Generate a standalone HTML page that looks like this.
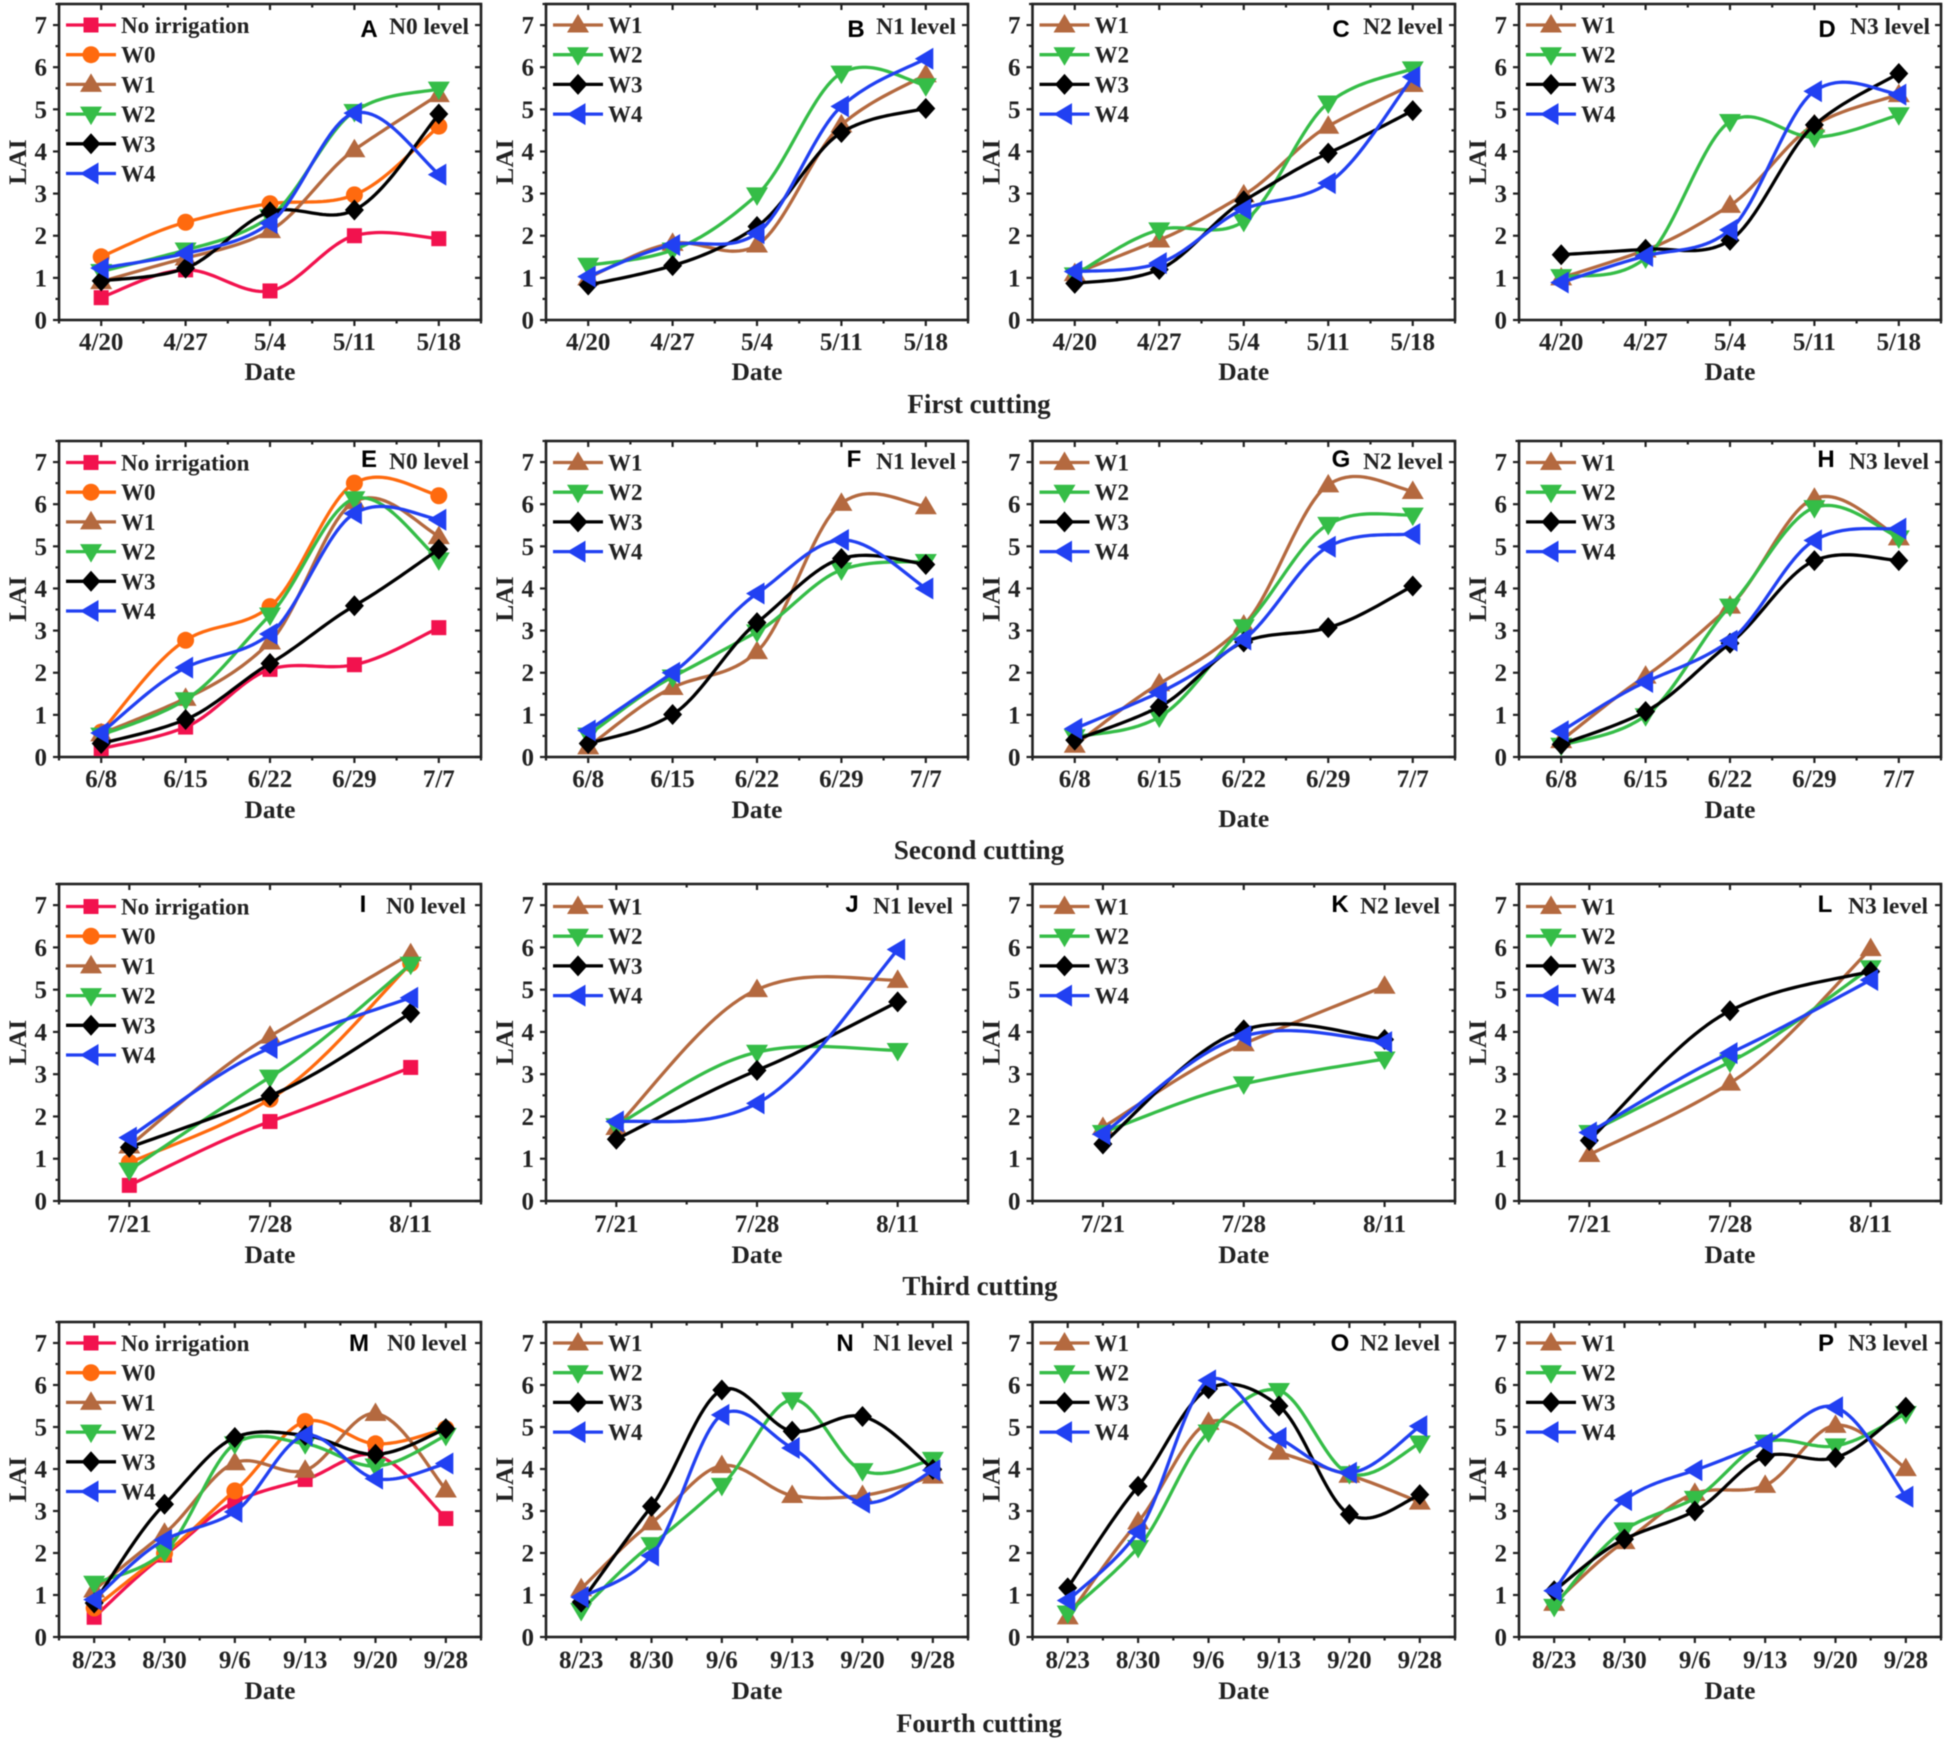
<!DOCTYPE html>
<html lang="en">
<head>
<meta charset="utf-8">
<title>LAI by date across four cuttings</title>
<style>
html,body{margin:0;padding:0;background:#fff}
svg{display:block;filter:blur(.45px)}
text{font-family:"Liberation Serif",serif;font-weight:bold;fill:#222}
.letter{font-family:"Liberation Sans",sans-serif;fill:#000;font-size:24px;text-anchor:middle}
</style>
</head>
<body>
<svg id="chart" xmlns="http://www.w3.org/2000/svg" width="1949" height="1744" viewBox="0 0 1949 1744">
<rect width="1949" height="1744" fill="#fff"/>
<text x="979" y="413" font-size="27" text-anchor="middle">First cutting</text>
<text x="979" y="859" font-size="27" text-anchor="middle">Second cutting</text>
<text x="980" y="1295" font-size="27" text-anchor="middle">Third cutting</text>
<text x="979" y="1732" font-size="26.5" text-anchor="middle">Fourth cutting</text>
</svg>
<script>
// ---- categories ----
const datesFirst = ['4/20','4/27','5/4','5/11','5/18'];
const datesSecond = ['6/8','6/15','6/22','6/29','7/7'];
const datesThird = ['7/21','7/28','8/11'];
const datesFourth = ['8/23','8/30','9/6','9/13','9/20','9/28'];
const yTickLabels = ['0','1','2','3','4','5','6','7'];

// ---- series values (LAI) ----
const A_NI=[0.53,1.19,0.69,2.0,1.93];
const A_W0=[1.5,2.32,2.76,2.97,4.6];
const A_W1=[0.91,1.47,2.12,4.04,5.35];
const A_W2=[1.15,1.66,2.45,4.95,5.48];
const A_W3=[0.93,1.23,2.57,2.61,4.89];
const A_W4=[1.23,1.58,2.3,4.91,3.45];

const B_W1=[1.0,1.82,1.78,4.63,5.82];
const B_W2=[1.3,1.66,2.97,5.86,5.56];
const B_W3=[0.83,1.29,2.22,4.45,5.02];
const B_W4=[1.03,1.78,2.06,5.07,6.2];

const C_W1=[1.1,1.9,2.97,4.6,5.59];
const C_W2=[1.07,2.14,2.34,5.15,5.96];
const C_W3=[0.87,1.2,2.83,3.96,4.97];
const C_W4=[1.15,1.35,2.63,3.25,5.77];

const D_W1=[1.0,1.66,2.72,4.63,5.35];
const D_W2=[1.03,1.47,4.71,4.34,4.87];
const D_W3=[1.55,1.68,1.89,4.63,5.85];
const D_W4=[0.89,1.52,2.14,5.43,5.35];

const E_NI=[0.2,0.71,2.08,2.19,3.07];
const E_W0=[0.59,2.77,3.57,6.5,6.2];
const E_W1=[0.55,1.39,2.73,6.06,5.23];
const E_W2=[0.52,1.36,3.37,6.13,4.68];
const E_W3=[0.32,0.89,2.22,3.59,4.93];
const E_W4=[0.57,2.12,2.92,5.78,5.63];

const F_W1=[0.24,1.65,2.5,6.02,5.94];
const F_W2=[0.52,1.9,2.97,4.44,4.64];
const F_W3=[0.32,1.01,3.19,4.71,4.57];
const F_W4=[0.63,2.0,3.88,5.15,4.0];

const G_W1=[0.28,1.74,3.13,6.46,6.3];
const G_W2=[0.48,0.95,3.09,5.52,5.74];
const G_W3=[0.4,1.19,2.73,3.07,4.06];
const G_W4=[0.67,1.53,2.79,4.99,5.29];

const H_W1=[0.39,1.92,3.58,6.14,5.2];
const H_W2=[0.28,0.98,3.58,5.92,5.2];
const H_W3=[0.3,1.08,2.7,4.66,4.66];
const H_W4=[0.61,1.78,2.76,5.14,5.42];

const I_NI=[0.37,1.88,3.16];
const I_W0=[0.91,2.41,5.62];
const I_W1=[1.3,3.9,5.85];
const I_W2=[0.73,2.93,5.6];
const I_W3=[1.27,2.49,4.45];
const I_W4=[1.5,3.62,4.81];

const J_W1=[1.74,5.0,5.22];
const J_W2=[1.78,3.52,3.56];
const J_W3=[1.46,3.09,4.71];
const J_W4=[1.88,2.31,5.95];

const K_W1=[1.74,3.72,5.08];
const K_W2=[1.62,2.77,3.36];
const K_W3=[1.35,4.05,3.82];
const K_W4=[1.58,3.9,3.76];

const L_W1=[1.1,2.79,5.97];
const L_W2=[1.62,3.29,5.52];
const L_W3=[1.43,4.5,5.43];
const L_W4=[1.62,3.5,5.23];

const M_NI=[0.47,1.95,3.22,3.75,4.33,2.82];
const M_W0=[0.69,1.99,3.48,5.13,4.6,4.96];
const M_W1=[1.12,2.47,4.15,3.97,5.32,3.5];
const M_W2=[1.28,2.03,4.6,4.6,4.07,4.8];
const M_W3=[0.81,3.16,4.75,4.8,4.35,4.96];
const M_W4=[0.89,2.31,2.98,4.8,3.77,4.13];

const N_W1=[1.15,2.72,4.08,3.37,3.37,3.83];
const N_W2=[0.63,2.2,3.61,5.65,3.96,4.23];
const N_W3=[0.83,3.11,5.88,4.9,5.25,3.99];
const N_W4=[0.95,1.94,5.29,4.5,3.2,3.97];

const O_W1=[0.48,2.74,5.11,4.4,3.85,3.21];
const O_W2=[0.57,2.13,4.88,5.87,3.89,4.62];
const O_W3=[1.17,3.59,5.91,5.5,2.92,3.39];
const O_W4=[0.87,2.5,6.11,4.74,3.91,5.02];

const P_W1=[0.8,2.27,3.42,3.61,5.04,4.01];
const P_W2=[0.73,2.55,3.3,4.64,4.55,5.32];
const P_W3=[1.1,2.33,3.0,4.3,4.27,5.47];
const P_W4=[1.1,3.26,3.97,4.62,5.47,3.34];

// ---- figure layout ----
const SVGNS = 'http://www.w3.org/2000/svg';
const root = document.getElementById('chart');
const Y_MAX = 7.5;
const INK = '#222';
const TENSION = 0.85;
const columns = [{l:59,r:481},{l:546,r:968},{l:1032.5,r:1455},{l:1519,r:1941}];
const rows = [
  {t:4,b:320,tick:350,date:380,legend:25,letter:37,level:34},
  {t:441,b:757,tick:787,date:818,legend:462.5,letter:467,level:469},
  {t:884,b:1201,tick:1232,date:1263,legend:906.5,letter:912,level:913.5},
  {t:1322,b:1637,tick:1668,date:1699,legend:1343,letter:1351,level:1350.5}
];
const seriesStyle = {
  'No irrigation':{color:'#F2124E',marker:'square'},
  'W0':{color:'#FF6A0E',marker:'circle'},
  'W1':{color:'#B4693F',marker:'up'},
  'W2':{color:'#35BD47',marker:'down'},
  'W3':{color:'#000000',marker:'diamond'},
  'W4':{color:'#2140F2',marker:'left'}
};
const fullSeries = ['No irrigation','W0','W1','W2','W3','W4'];
const partSeries = ['W1','W2','W3','W4'];

const panels = [
 {id:'A',col:0,row:0,level:'N0 level',letterX:369,levelEnd:469,dates:datesFirst,names:fullSeries,values:[A_NI,A_W0,A_W1,A_W2,A_W3,A_W4]},
 {id:'B',col:1,row:0,level:'N1 level',letterX:856,levelEnd:956,dates:datesFirst,names:partSeries,values:[B_W1,B_W2,B_W3,B_W4]},
 {id:'C',col:2,row:0,level:'N2 level',letterX:1341,levelEnd:1443,dates:datesFirst,names:partSeries,values:[C_W1,C_W2,C_W3,C_W4]},
 {id:'D',col:3,row:0,level:'N3 level',letterX:1827,levelEnd:1930,dates:datesFirst,names:partSeries,values:[D_W1,D_W2,D_W3,D_W4]},
 {id:'E',col:0,row:1,level:'N0 level',letterX:369,levelEnd:469,dates:datesSecond,names:fullSeries,values:[E_NI,E_W0,E_W1,E_W2,E_W3,E_W4]},
 {id:'F',col:1,row:1,level:'N1 level',letterX:854,levelEnd:956,dates:datesSecond,names:partSeries,values:[F_W1,F_W2,F_W3,F_W4]},
 {id:'G',col:2,row:1,level:'N2 level',letterX:1341,levelEnd:1443,dateDy:9,dates:datesSecond,names:partSeries,values:[G_W1,G_W2,G_W3,G_W4]},
 {id:'H',col:3,row:1,level:'N3 level',letterX:1826,levelEnd:1929,dates:datesSecond,names:partSeries,values:[H_W1,H_W2,H_W3,H_W4]},
 {id:'I',col:0,row:2,level:'N0 level',letterX:363,levelEnd:466,dates:datesThird,names:fullSeries,values:[I_NI,I_W0,I_W1,I_W2,I_W3,I_W4]},
 {id:'J',col:1,row:2,level:'N1 level',letterX:852,levelEnd:953,dates:datesThird,names:partSeries,values:[J_W1,J_W2,J_W3,J_W4]},
 {id:'K',col:2,row:2,level:'N2 level',letterX:1340,levelEnd:1440,dates:datesThird,names:partSeries,values:[K_W1,K_W2,K_W3,K_W4]},
 {id:'L',col:3,row:2,level:'N3 level',letterX:1825,levelEnd:1928,dates:datesThird,names:partSeries,values:[L_W1,L_W2,L_W3,L_W4]},
 {id:'M',col:0,row:3,level:'N0 level',letterX:359,levelEnd:467,dates:datesFourth,names:fullSeries,values:[M_NI,M_W0,M_W1,M_W2,M_W3,M_W4]},
 {id:'N',col:1,row:3,level:'N1 level',letterX:845,levelEnd:953,dates:datesFourth,names:partSeries,values:[N_W1,N_W2,N_W3,N_W4]},
 {id:'O',col:2,row:3,level:'N2 level',letterX:1340,levelEnd:1440,dates:datesFourth,names:partSeries,values:[O_W1,O_W2,O_W3,O_W4]},
 {id:'P',col:3,row:3,level:'N3 level',letterX:1826,levelEnd:1928,dates:datesFourth,names:partSeries,values:[P_W1,P_W2,P_W3,P_W4]}
];

// ---- helpers ----
function mk(tag, attrs, parent, name, txt){
  const el = document.createElementNS(SVGNS, tag);
  for (const k in attrs) el.setAttribute(k, attrs[k]);
  
  
  if (txt !== undefined) el.textContent = txt;
  parent.appendChild(el);
  return el;
}
function slug(s){ return s.toLowerCase().replace(/\s+/g,'-'); }

// Tensioned Catmull-Rom cubic through the points, sampled into a path
function splinePath(xs, ys){
  const n = xs.length, m = new Array(n);
  const h = xs[1]-xs[0];
  for (let i=1;i<n-1;i++) m[i]=TENSION*(ys[i+1]-ys[i-1])/2;
  const d0=ys[1]-ys[0], d1=ys[n-1]-ys[n-2];
  m[0]=((3*d0-m[1])/2+d0)/2;
  m[n-1]=((3*d1-m[n-2])/2+d1)/2;
  let p = 'M'+xs[0].toFixed(2)+' '+ys[0].toFixed(2);
  for (let i=0;i<n-1;i++){
    const steps=24;
    for (let s=1;s<=steps;s++){
      const t=s/steps, t2=t*t, t3=t2*t;
      const v=(2*t3-3*t2+1)*ys[i]+(t3-2*t2+t)*m[i]+(-2*t3+3*t2)*ys[i+1]+(t3-t2)*m[i+1];
      p+='L'+(xs[i]+t*h).toFixed(2)+' '+v.toFixed(2);
    }
  }
  return p;
}

function drawMarker(parent, kind, cx, cy, color, name){
  if (kind==='square'){
    return mk('rect',{x:cx-7.5,y:cy-7.5,width:15,height:15,fill:color},parent,name);
  }
  if (kind==='circle'){
    return mk('circle',{cx:cx,cy:cy,r:8.5,fill:color},parent,name);
  }
  let pts;
  if (kind==='up') pts=[[0,-11],[11,7.5],[-11,7.5]];
  if (kind==='down') pts=[[0,11],[11,-7.5],[-11,-7.5]];
  if (kind==='diamond') pts=[[0,-10.5],[9.5,0],[0,10.5],[-9.5,0]];
  if (kind==='left') pts=[[-11,0],[7.5,-11],[7.5,11]];
  const str=pts.map(function(q){return (cx+q[0]).toFixed(2)+','+(cy+q[1]).toFixed(2);}).join(' ');
  return mk('polygon',{points:str,fill:color},parent,name);
}

// ---- build one panel ----
function drawPanel(p){
  const col=columns[p.col], row=rows[p.row];
  const L=col.l,R=col.r,T=row.t,B=row.b,W=R-L;
  const n=p.dates.length;
  const xScale=function(i){return L+(i+0.5)*W/n;};
  const yScale=function(v){return B-v*(B-T)/Y_MAX;};
  const key=p.id.toLowerCase();
  const g=mk('g',{},root,'panel-'+key);

  mk('rect',{x:L,y:T,width:W,height:B-T,fill:'#fff',stroke:INK,'stroke-width':2.6},g,'plot-frame-'+key);

  // axes
  const yAxis=mk('g',{stroke:INK,'stroke-width':2.2},g,'y-axis-'+key);
  for (let v=0;v<=Y_MAX;v+=0.5){
    const major=Number.isInteger(v), y=yScale(v), len=major?6:3.5;
    mk('line',{x1:L-len,x2:L,y1:y,y2:y},yAxis,'y-tick');
    mk('line',{x1:R-len,x2:R,y1:y,y2:y},yAxis,'y-tick-mirror');
  }
  const xAxis=mk('g',{stroke:INK,'stroke-width':2.2},g,'x-axis-'+key);
  for (let i=0;i<n;i++){
    const x=xScale(i);
    mk('line',{x1:x,x2:x,y1:B,y2:B+6},xAxis,'x-tick');
    mk('line',{x1:x,x2:x,y1:T,y2:T+6},xAxis,'x-tick-mirror');
  }
  for (let i=0;i<=n;i++){
    const x=L+i*W/n;
    mk('line',{x1:x,x2:x,y1:B,y2:B+3.5},xAxis,'x-minor-tick');
    mk('line',{x1:x,x2:x,y1:T,y2:T+3.5},xAxis,'x-minor-tick-mirror');
  }
  yTickLabels.forEach(function(lbl){
    mk('text',{x:L-12,y:yScale(+lbl)+8.5,'font-size':25,'text-anchor':'end'},g,'y-tick-label',lbl);
  });
  p.dates.forEach(function(d,i){
    mk('text',{x:xScale(i),y:row.tick,'font-size':25,'text-anchor':'middle'},g,'x-tick-label',d);
  });
  mk('text',{x:(L+R)/2,y:row.date+(p.dateDy||0),'font-size':25.5,'text-anchor':'middle'},g,'x-axis-title','Date');
  const ty=(T+B)/2;
  mk('text',{x:L-33,y:ty,'font-size':25.5,'text-anchor':'middle',transform:'rotate(-90 '+(L-33)+' '+ty+')'},g,'y-axis-title','LAI');

  // series
  p.names.forEach(function(name,si){
    const st=seriesStyle[name], vals=p.values[si];
    const sg=mk('g',{},g,'series-'+slug(name)+'-'+key);
    const xs=vals.map(function(_,i){return xScale(i);});
    const ys=vals.map(yScale);
    mk('path',{d:splinePath(xs,ys),fill:'none',stroke:st.color,'stroke-width':3.3,'stroke-linejoin':'round'},sg,'line-'+slug(name));
    vals.forEach(function(_,i){
      drawMarker(sg,st.marker,xs[i],ys[i],st.color,'point-'+slug(name));
    });
  });

  // legend
  const lg=mk('g',{},g,'legend-'+key);
  p.names.forEach(function(name,si){
    const st=seriesStyle[name], y=row.legend+si*29.7;
    const e=mk('g',{},lg,'legend-entry-'+slug(name));
    mk('line',{x1:L+7,x2:L+57,y1:y,y2:y,stroke:st.color,'stroke-width':3.3},e,'legend-line');
    drawMarker(e,st.marker,L+32,y,st.color,'legend-marker');
    mk('text',{x:L+62,y:y+8,'font-size':23},e,'legend-label',name);
  });

  // annotations
  mk('text',{x:p.letterX,y:row.letter,'class':'letter'},g,'panel-letter-'+key,p.id);
  mk('text',{x:p.levelEnd,y:row.level,'font-size':23.4,'text-anchor':'end'},g,'nitrogen-level-'+key,p.level);
}
panels.forEach(drawPanel);
</script>
</body>
</html>
